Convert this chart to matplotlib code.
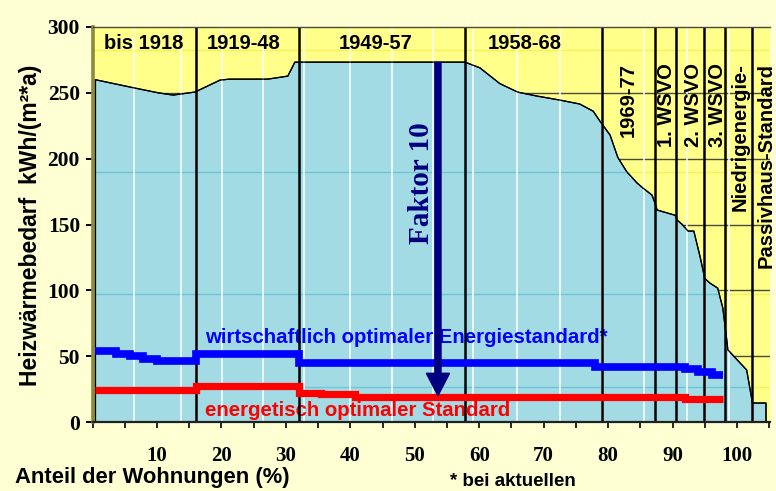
import matplotlib
matplotlib.use('Agg')
import matplotlib.pyplot as plt
from matplotlib.patches import Polygon

# ---------------- data ----------------
# heat demand curve (upper edge of the blue area), x = share of dwellings (%)
curve_x = [0.4, 6.6, 10.2, 12.5, 15.9, 19.8, 21.3, 27.2, 30.3, 31.4, 57.8, 60.1, 63.2,
           66.0, 68.9, 72.5, 75.6, 77.7, 78.8, 80.3, 81.5, 82.9, 84.5, 85.4, 86.8, 87.3,
           87.6, 90.4, 90.8, 91.5, 92.4, 93.3, 94.3, 95.0, 95.8, 97.0, 97.8, 98.6, 101.5,
           102.4, 104.5]
curve_y = [260, 253.6, 250, 248.3, 250.6, 259.7, 260.4, 260.4, 262.7, 273.3, 273.3, 269, 257,
           250.5, 247.6, 244.5, 241.5, 236, 228, 218, 201, 190, 181.5, 177.7, 172.4, 166,
           161, 157, 153, 150, 145, 145, 125, 109, 105.5, 101.7, 86.6, 54.7, 39.5,
           14.4, 14.4]

# era boundaries
era_bounds = [16.0, 32.0, 57.8, 79.0, 87.3, 90.6, 94.9, 98.1, 102.4]
era_labels_h = ["bis 1918", "1919-48", "1949-57", "1958-68"]
era_labels_h_x = [8.0, 23.4, 44.0, 67.1]
era_labels_v = ["1969-77", "1. WSVO", "2. WSVO", "3. WSVO", "Niedrigenergie-", "Passivhaus-Standard"]
era_labels_v_x = [83.1, 89.1, 93.2, 96.9, 100.5, 104.55]

# economically optimal standard (step line)
econ_edges = [0.4, 3.7, 5.8, 7.8, 10.0, 16.0, 32.0, 78.0, 91.9, 93.9, 96.1, 97.8]
econ_values = [54, 52, 50, 48, 46.5, 51.6, 45, 42, 40, 37.6, 35.7]

# energetically optimal standard (step line)
energ_edges = [0.4, 16.0, 32.0, 35.5, 40.8, 92.0, 97.8]
energ_values = [24.3, 27.3, 22.3, 21.3, 19.2, 17.5]

# factor-10 arrow
arrow_x = 53.6
arrow_from = 273
arrow_to = 20

# tick values
y_ticks = [0, 50, 100, 150, 200, 250, 300]
x_ticks = [0, 5, 10, 15, 20, 25, 30, 35, 40, 45, 50, 55, 60, 65, 70, 75, 80, 85, 90, 95, 100, 105]
x_labels = ["" if (t % 10 or t == 0) else str(t) for t in x_ticks]

# decorative grid lines
white_vlines = [6.5, 13.75, 20.1, 26.4, 32.8, 40, 46.5, 52.8, 59.1, 65.8, 72.5, 79, 85.5, 92.3, 98.7]
minor_hlines = [282.5, 190, 97, 26.6]

# ---------------- style ----------------
FIG_BG = '#FFFFD4'
YELLOW = '#FFFF8A'
CYAN = '#A3DBE5'
SANS = 'Liberation Sans'
SERIF = 'Liberation Serif'

fig = plt.figure(figsize=(7.76, 4.91), dpi=100, facecolor=FIG_BG)
L, R, B, T = 92.5, 770, 422, 27
ax = fig.add_axes([L / 776, (491 - B) / 491, (R - L) / 776, (B - T) / 491])
ax.set_facecolor(YELLOW)
ax.set_xlim(0, 105.12)
ax.set_ylim(0, 300)

# main horizontal grid (hidden under the blue area)
for v in [50, 100, 150, 200, 250]:
    ax.axhline(v, color='#4a4a3a', lw=1.0, zorder=1)
for v in minor_hlines:
    ax.axhline(v, color='#F2F25A', lw=1.0, zorder=1)

# blue area
poly_x = curve_x + [curve_x[-1], curve_x[0]]
poly_y = curve_y + [0, 0]
area = Polygon(list(zip(poly_x, poly_y)), closed=True, facecolor=CYAN,
               edgecolor='black', lw=0.9, zorder=2)
ax.add_patch(area)
for v in minor_hlines:
    ln = ax.axhline(v, color='#6EC5D3', lw=1.0, zorder=2.5)
    ln.set_clip_path(area)

# white verticals
for v in white_vlines:
    ax.axvline(v, color='white', lw=1.1, zorder=3)

# outline again above white lines
ax.plot(curve_x + [curve_x[-1]], curve_y + [0], color='black', lw=0.9, zorder=3.5)
ax.plot([curve_x[0], curve_x[0]], [0, curve_y[0]], color='black', lw=0.9, zorder=3.5)

# texts inside plot (under the era lines)
for lab, x in zip(era_labels_h, era_labels_h_x):
    ax.text(x, 287.8, lab, ha='center', va='center', fontsize=14.5, fontweight='bold',
            family=SANS, zorder=3.8)
for lab, x in zip(era_labels_v, era_labels_v_x):
    ax.text(x, 272.5, lab, ha='center', va='top', rotation=90, fontsize=14.5,
            fontweight='bold', family=SANS, zorder=3.8, clip_on=False)

ax.text(17.45, 63.8, 'wirtschaftlich optimaler Energiestandard*', ha='left', va='center',
        fontsize=14.65, fontweight='bold', family=SANS, color='#0000FF', zorder=3.8)
ax.text(17.45, 8.4, 'energetisch optimaler Standard', ha='left', va='center',
        fontsize=14.7, fontweight='bold', family=SANS, color='#FF0000', zorder=3.8)

# era boundaries
ax.vlines(era_bounds, 0, 300, color='black', lw=1.8, zorder=4)

# step lines
ax.stairs(econ_values, econ_edges, baseline=None, color='#0000FF', lw=5.5, zorder=5)
ax.stairs(energ_values, energ_edges, baseline=None, color='#FF0000', lw=5.2, zorder=5)

# arrow
ax.arrow(arrow_x, arrow_from, 0, arrow_to - arrow_from, width=0.95, head_width=3.6,
         head_length=17, length_includes_head=True, color='#000080', zorder=6)
ax.text(51.05, 181.5, 'Faktor 10', rotation=90, ha='center', va='center', fontsize=21,
        fontweight='bold', family=SERIF, color='#000080', zorder=7)

# axes / ticks
ax.spines['right'].set_visible(False)
ax.spines['top'].set_color('#4a4a3a')
ax.spines['top'].set_linewidth(1.0)
ax.spines['left'].set_color('#8A8A40')
ax.spines['left'].set_linewidth(2.6)
ax.spines['bottom'].set_color('#202020')
ax.spines['bottom'].set_linewidth(1.6)
for sp in ax.spines.values():
    sp.set_zorder(8)

ax.set_yticks(y_ticks)
ax.set_yticklabels([str(v) for v in y_ticks], family=SERIF, fontweight='bold', fontsize=15.5)
ax.set_xticks(x_ticks)
ax.set_xticklabels(x_labels, family=SERIF, fontweight='bold', fontsize=15)
ax.tick_params(axis='y', direction='out', length=5, width=1.4, color='black', pad=4)
ax.tick_params(axis='x', direction='out', length=4.5, width=1.2, color='black', pad=13)

# axis labels
fig.text(31 / 776, (491 - 225) / 491, 'Heizwärmebedarf  kWh/(m²*a)', rotation=90,
         ha='center', va='center', fontsize=16.5, fontweight='bold', family=SANS)
fig.text(15 / 776, (491 - 477) / 491, 'Anteil der Wohnungen (%)', ha='left', va='center',
         fontsize=15.8, fontweight='bold', family=SANS)
fig.text(450 / 776, (491 - 481) / 491, '* bei aktuellen', ha='left', va='center',
         fontsize=13.5, fontweight='bold', family=SANS)

fig.savefig('out.png', dpi=100, facecolor=FIG_BG)
